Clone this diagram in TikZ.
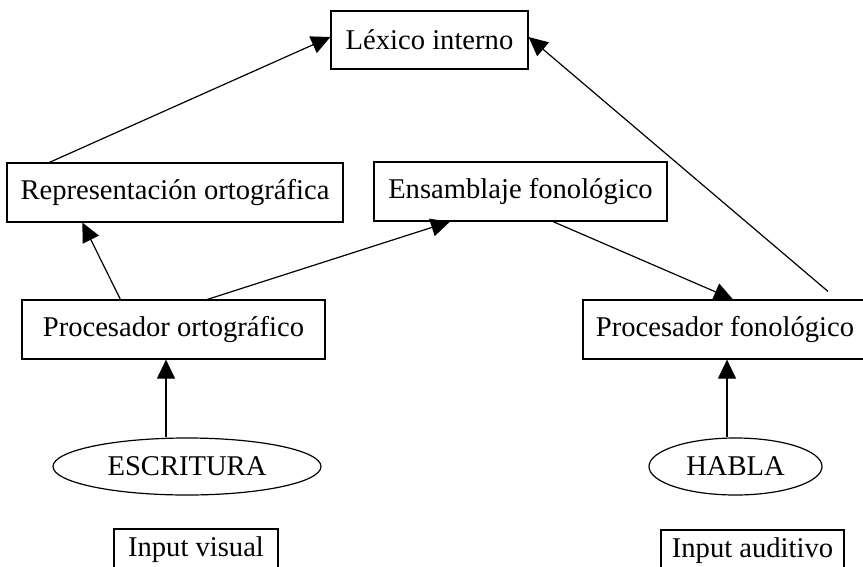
\documentclass[tikz,border=0pt]{standalone}
\usepackage{fontspec}
\setmainfont{Liberation Serif}
\usetikzlibrary{arrows.meta,shapes.geometric}
\tikzset{
  box/.style={draw, line width=1.2pt, rectangle, inner sep=0pt, font=\fontsize{28.6}{34}\selectfont},
  oval/.style={draw, line width=1.2pt, ellipse, inner sep=0pt, font=\fontsize{28.6}{34}\selectfont},
  arr/.style={line width=1.2pt, -{Triangle[length=19pt,width=18pt]}}
}
\begin{document}
\begin{tikzpicture}[x=1pt,y=-1pt]
\useasboundingbox (0,0) rectangle (863,566);
\node[box, minimum width=197pt, minimum height=58pt] (lex) at (429.5,40) {Léxico interno};
\node[box, minimum width=336pt, minimum height=59pt] (rep) at (175,192.5) {Representación ortográfica};
\node[box, minimum width=293pt, minimum height=59pt] (ens) at (520.5,191.5) {Ensamblaje fonológico};
\node[box, minimum width=303pt, minimum height=59pt] (port) at (173.5,329.5) {Procesador ortográfico};
\node[box, minimum width=284pt, minimum height=59pt] (pfon) at (725,329.5) {Procesador fonológico};
\node[oval, minimum width=268pt, minimum height=57pt] (esc) at (187,466.5) {ESCRITURA};
\node[oval, minimum width=173pt, minimum height=57pt] (hab) at (735.5,466.5) {HABLA};
\node[box, minimum width=164pt, minimum height=42pt] (ivis) at (196,550) {Input visual};
\node[box, minimum width=183pt, minimum height=42pt] (iaud) at (752.5,551) {Input auditivo};
\coordinate (pfstart) at ([xshift=103pt,yshift=8pt]pfon.north);
% connectors
\draw[arr] ([xshift=43pt]rep.north west) -- ([yshift=3pt]lex.west);
\draw[arr] (pfstart) -- ([yshift=3pt]lex.east);
\draw[arr] ([xshift=99pt]port.north west) -- ([xshift=76pt]rep.south west);
\draw[arr] ([xshift=186pt]port.north west) -- ([xshift=-70.5pt]ens.south);
\draw[arr] ([xshift=32.5pt]ens.south) -- ([xshift=8pt]pfon.north);
\draw[arr] ([xshift=-21pt]esc.north) -- ([xshift=-7.5pt]port.south);
\draw[arr] ([xshift=-8.5pt]hab.north) -- ([xshift=2pt]pfon.south);
\end{tikzpicture}
\end{document}
